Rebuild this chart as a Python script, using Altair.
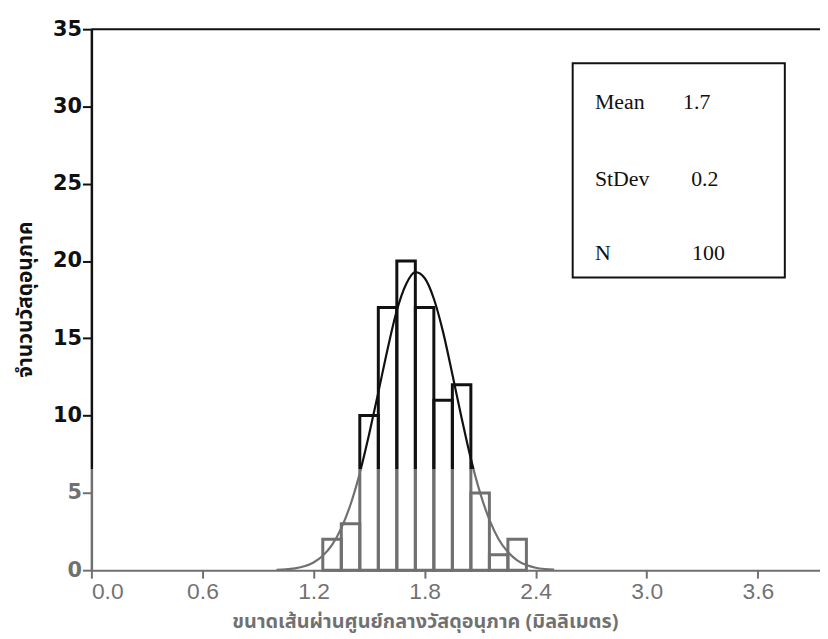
import altair as alt
import pandas as pd

# Histogram bins (mm) and counts
bin_lo = [1.25, 1.35, 1.45, 1.55, 1.65, 1.75, 1.85, 1.95, 2.05, 2.15, 2.25]
bin_hi = [1.35, 1.45, 1.55, 1.65, 1.75, 1.85, 1.95, 2.05, 2.15, 2.25, 2.35]
counts = [2, 3, 10, 17, 20, 17, 11, 12, 5, 1, 2]

# Fitted normal curve
curve_x = [1.00, 1.05, 1.10, 1.15, 1.20, 1.25, 1.30, 1.35, 1.40, 1.45, 1.50,
           1.55, 1.60, 1.65, 1.70, 1.75, 1.80, 1.85, 1.90, 1.95, 2.00, 2.05,
           2.10, 2.15, 2.20, 2.25, 2.30, 2.35, 2.40, 2.45, 2.50]
curve_y = [0.02, 0.05, 0.12, 0.25, 0.50, 0.93, 1.63, 2.72, 4.25, 6.28, 8.77,
           11.5, 14.3, 16.8, 18.5, 19.28, 18.9, 17.56, 15.4, 12.67, 9.85, 7.2,
           5.0, 3.27, 2.0, 1.17, 0.64, 0.33, 0.16, 0.075, 0.03]

# Statistics box
stat_names = ["Mean", "StDev", "N"]
stat_values = ["1.7", "0.2", "100"]
stat_name_x = [2.72, 2.72, 2.72]
stat_value_x = [3.196, 3.24, 3.245]
stat_y = [30.3, 25.3, 20.5]
box_x = [2.60]
box_x2 = [3.746]
box_y = [18.94]
box_y2 = [32.8]

x_ticks = [0.0, 0.6, 1.2, 1.8, 2.4, 3.0, 3.6]
y_ticks = [0, 5, 10, 15, 20, 25, 30, 35]

x_title = "ขนาดเส้นผ่านศูนย์กลางวัสดุอนุภาค (มิลลิเมตร)"
y_title = "จำนวนวัสดุอนุภาค"

W, H = 734, 545
THAI = "Noto Sans Thai, Noto Sans Thai Looped, Loma, Garuda, Tahoma, DejaVu Sans, sans-serif"

bars_df = pd.DataFrame({"lo": bin_lo, "hi": bin_hi, "count": counts})
curve_df = pd.DataFrame({"x": curve_x, "y": curve_y})
stats_df = pd.DataFrame({"name": stat_names, "value": stat_values,
                         "nx": stat_name_x, "vx": stat_value_x, "y": stat_y})
box_df = pd.DataFrame({"x": box_x, "x2": box_x2, "y": box_y, "y2": box_y2})

xscale = alt.Scale(domain=[0, 3.936], nice=False, zero=False)
yscale = alt.Scale(domain=[0, 35], nice=False)

xaxis = alt.Axis(values=x_ticks, format=".1f", title=x_title, grid=False,
                 labelFont="Liberation Sans", labelFontSize=23,
                 labelColor="#111", labelPadding=3,
                 tickSize=8, tickWidth=2, tickColor="#111",
                 domainColor="#111", domainWidth=2,
                 titleFont=THAI, titleFontSize=20, titleFontWeight="bold",
                 titleColor="#111", titleX=336, titleY=52,
                 titleAlign="center", titleBaseline="middle", titleAnchor="start")
yaxis = alt.Axis(values=y_ticks, title=y_title, grid=False,
                 labelFont="DejaVu Sans", labelFontWeight="bold",
                 labelFontSize=21, labelColor="#111", labelPadding=1,
                 tickSize=9, tickWidth=2, tickColor="#111",
                 domainColor="#111", domainWidth=2.5,
                 titleFont=THAI, titleFontSize=21, titleFontWeight="bold",
                 titleColor="#111", titleX=-66, titleY=272,
                 titleAlign="center", titleBaseline="middle", titleAnchor="start")

bars = alt.Chart(bars_df).mark_rect(fill="white", fillOpacity=0, stroke="#111",
                                    strokeWidth=3).encode(
    x=alt.X("lo:Q", scale=xscale, axis=xaxis),
    x2="hi:Q",
    y=alt.Y("count:Q", scale=yscale, axis=yaxis),
    y2=alt.datum(0),
)

curve = alt.Chart(curve_df).mark_line(color="#111", strokeWidth=2.2,
                                      interpolate="monotone").encode(
    x=alt.X("x:Q", scale=xscale),
    y=alt.Y("y:Q", scale=yscale),
)

box = alt.Chart(box_df).mark_rect(fill="white", stroke="#111",
                                  strokeWidth=2).encode(
    x=alt.X("x:Q", scale=xscale), x2="x2:Q",
    y=alt.Y("y:Q", scale=yscale), y2="y2:Q",
)

names = alt.Chart(stats_df).mark_text(font="Liberation Serif", fontSize=22,
                                      align="left", baseline="middle",
                                      color="#111").encode(
    x=alt.X("nx:Q", scale=xscale), y=alt.Y("y:Q", scale=yscale), text="name:N")
vals = alt.Chart(stats_df).mark_text(font="Liberation Serif", fontSize=22,
                                     align="left", baseline="middle",
                                     color="#111").encode(
    x=alt.X("vx:Q", scale=xscale), y=alt.Y("y:Q", scale=yscale), text="value:N")

top_line = alt.Chart(box_df).mark_rule(color="#111", strokeWidth=2).encode(
    x=alt.value(0), x2=alt.value(W), y=alt.value(0))

fade = alt.Chart(box_df).mark_rect(color="white", opacity=0.4).encode(
    x=alt.value(-95), x2=alt.value(W + 10),
    y=alt.value(443), y2=alt.value(H + 80))

chart = alt.layer(bars, curve, box, names, vals, top_line, fade).properties(
    width=W, height=H,
    autosize=alt.AutoSizeParams(type="none"),
    padding={"left": 84, "top": 19, "right": 0, "bottom": 66},
).configure_view(stroke=None).configure(background="white")

chart.save("out.html", embed_options={"renderer": "svg", "actions": False})
